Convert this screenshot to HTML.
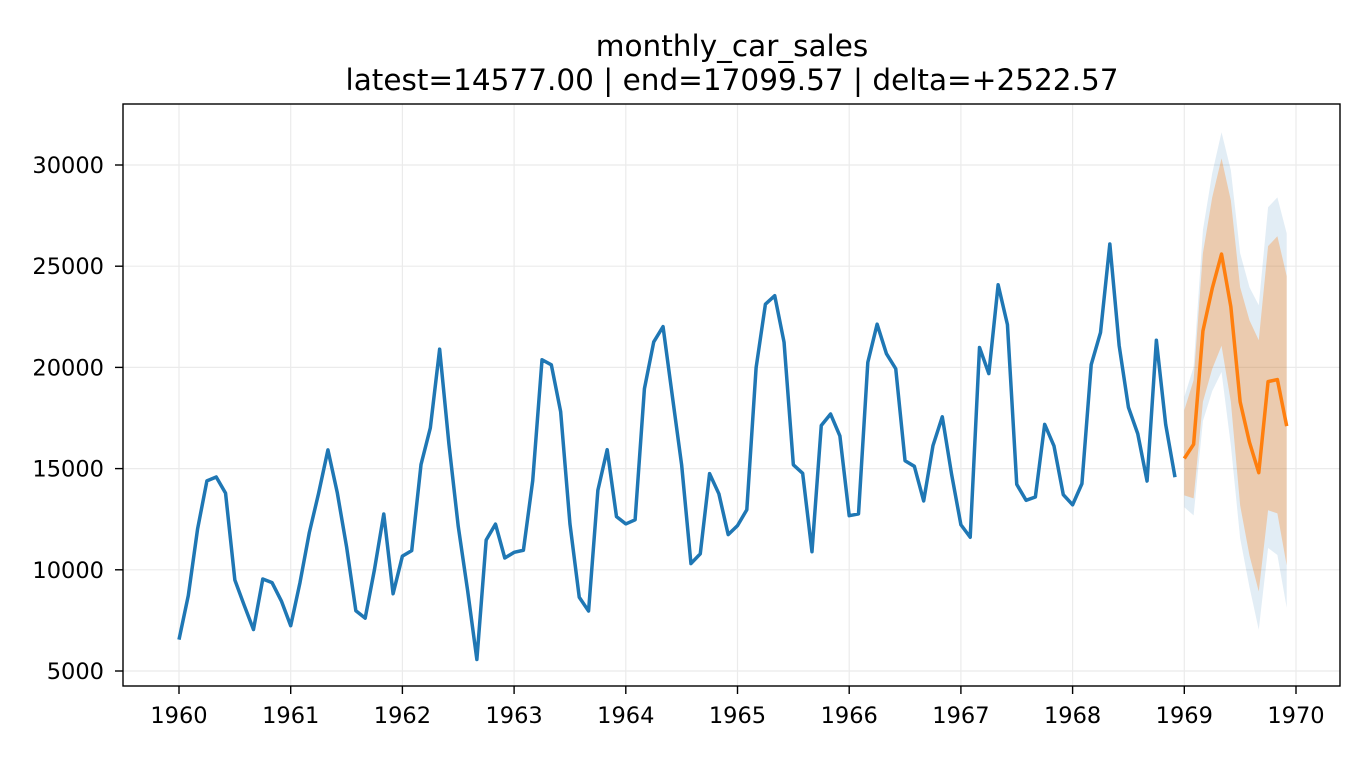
<!DOCTYPE html>
<html><head><meta charset="utf-8"><style>
body{margin:0;background:#fff;}
svg text{font-family:"DejaVu Sans","Liberation Sans",sans-serif;fill:#000;}
</style></head><body>
<svg id="c" width="1368" height="756" xmlns="http://www.w3.org/2000/svg">
<rect width="1368" height="756" fill="#fff"/>
<text x="732" y="56" font-size="29.5" text-anchor="middle">monthly_car_sales</text>
<text x="732" y="90" font-size="29.5" text-anchor="middle">latest=14577.00 | end=17099.57 | delta=+2522.57</text>
<g id="grid"></g><g id="bands"></g><g id="lines"></g><g id="axes"></g>
</svg>
<script>
const histValues=[6550,8728,12026,14395,14587,13791,9498,8251,7049,9545,9364,8456,
7237,9374,11837,13784,15926,13821,11143,7975,7610,10015,12759,8816,
10677,10947,15200,17010,20900,16205,12143,8997,5568,11474,12256,10583,
10862,10965,14405,20379,20128,17816,12268,8642,7962,13932,15936,12628,
12267,12470,18944,21259,22015,18581,15175,10306,10792,14752,13754,11738,
12181,12965,19990,23125,23541,21247,15189,14767,10895,17130,17697,16611,
12674,12760,20249,22135,20677,19933,15388,15113,13401,16135,17562,14720,
12225,11608,20985,19692,24081,22114,14220,13434,13598,17187,16119,13713,
13210,14251,20139,21725,26099,21084,18024,16722,14385,21342,17180,14577];
const fcValues=[15500,16200,21800,23900,25600,23000,18300,16300,14800,19300,19400,17100];
const outerUpper=[18540,20020,26790,29600,31620,29740,25640,23960,23070,27910,28400,26620];
const innerUpper=[17890,19370,25640,28400,30330,28250,23960,22330,21340,25990,26480,24510];
const innerLower=[13680,13530,18300,19930,21070,18300,13180,10710,8930,12940,12790,10220];
const outerLower=[13090,12690,17350,18830,19770,16150,11550,9150,7040,11080,10730,8130];
const xTicks=[1960,1961,1962,1963,1964,1965,1966,1967,1968,1969,1970];
const yTicks=[5000,10000,15000,20000,25000,30000];
const L=123,R=1340,T=104,B=686;
const X=t=>179+(t-1960)*111.7;
const Y=v=>671-(v-5000)*101.2/5000;
const NS="http://www.w3.org/2000/svg";
function mk(tag,attrs,parent){const e=document.createElementNS(NS,tag);for(const k in attrs)e.setAttribute(k,attrs[k]);document.getElementById(parent).appendChild(e);return e;}
xTicks.forEach(t=>{const g=mk('line',{x1:X(t),x2:X(t),y1:T,y2:B,stroke:'#ebebeb','stroke-width':1.2},'grid');


mk('line',{x1:X(t),x2:X(t),y1:B,y2:B+8,stroke:'#000','stroke-width':1.4},'axes');
const tx=mk('text',{x:X(t),y:B+37,'font-size':22.5,'text-anchor':'middle'},'axes');tx.textContent=t;

});
yTicks.forEach(v=>{const g=mk('line',{x1:L,x2:R,y1:Y(v),y2:Y(v),stroke:'#ebebeb','stroke-width':1.2},'grid');


mk('line',{x1:L-8,x2:L,y1:Y(v),y2:Y(v),stroke:'#000','stroke-width':1.4},'axes');
const tx=mk('text',{x:L-19,y:Y(v)+8,'font-size':22.5,'text-anchor':'end'},'axes');tx.textContent=v;

});
const fx=i=>X(1969+i/12);
function band(up,lo,color,op,name){let d='M'+up.map((v,i)=>fx(i)+','+Y(v)).join('L');
for(let i=lo.length-1;i>=0;i--)d+='L'+fx(i)+','+Y(lo[i]);
const p=mk('path',{d:d+'Z',fill:color,'fill-opacity':op},'bands');

}
band(outerUpper,outerLower,'#1f77b4',0.13,'outer-interval-band');
band(innerUpper,innerLower,'#ff7f0e',0.3,'inner-interval-band');
const h=mk('polyline',{points:histValues.map((v,i)=>X(1960+i/12)+','+Y(v)).join(' '),fill:'none',stroke:'#1f77b4','stroke-width':3.5,'stroke-linejoin':'round'},'lines');


const f=mk('polyline',{points:fcValues.map((v,i)=>fx(i)+','+Y(v)).join(' '),fill:'none',stroke:'#ff7f0e','stroke-width':3.5,'stroke-linejoin':'round'},'lines');


const fr=mk('rect',{x:L,y:T,width:R-L,height:B-T,fill:'none',stroke:'#000','stroke-width':1.4},'axes');


</script>
</body></html>
